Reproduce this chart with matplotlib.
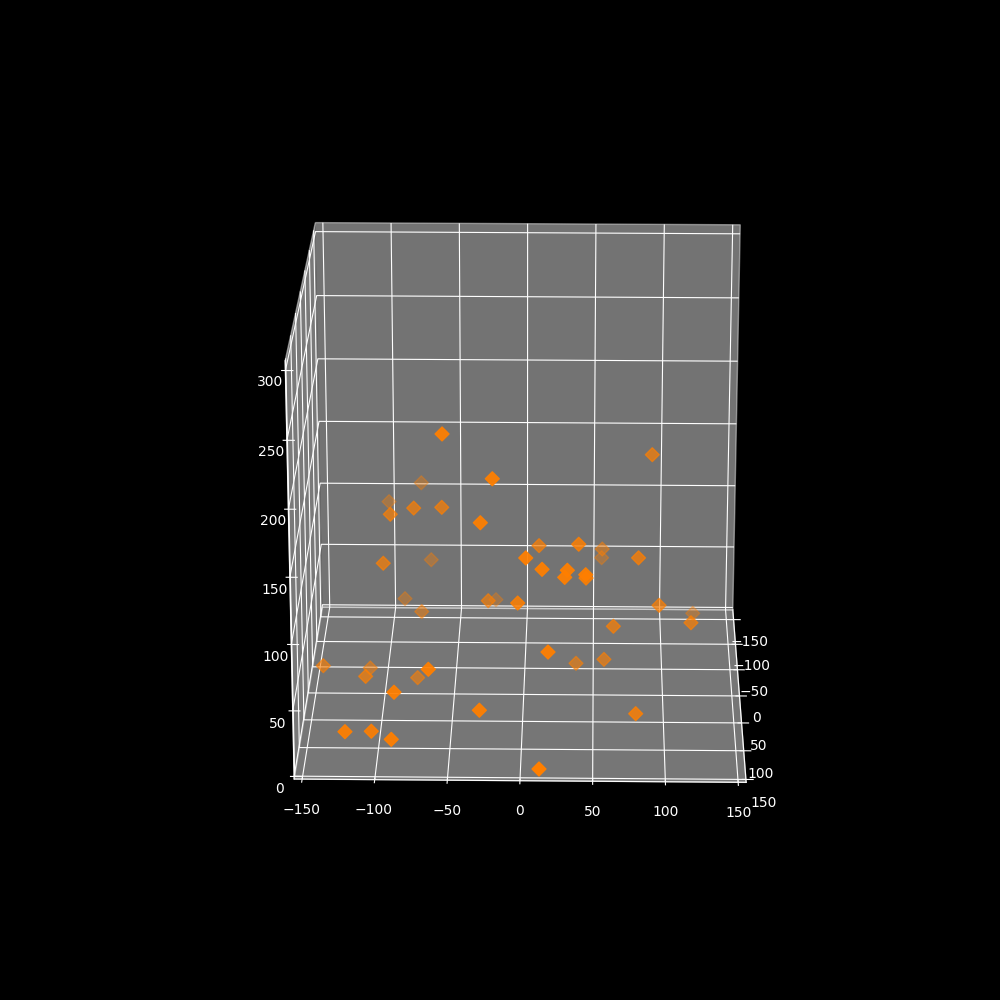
import matplotlib
matplotlib.use("Agg")
import matplotlib.pyplot as plt

plt.style.use("dark_background")

x = [-56.3,-21.1,-78.7,-102.6,-95.9,-79.2,-59.1,-29.3,91.3,-100.7,-70.9,10.7,39.2,56.1,55.8,81.7,2.5,13.9,31.5,29.7,44.3,44.5,-90.2,-76.0,-26.0,-23.0,-3.4,96.8,123.8,119.7,64.2,-144.6,-112.8,-112.8,-64.8,-77.3,-88.6,18.4,37.5,57.7,-122.6,-105.0,-90.3,-29.1,80.1,12.9]
y = [34,46,-148,-142,-24,-26,-26,56,-42,-10,-126,-16,24,-90,-128,4,66,68,68,70,68,42,-114,-70,-24,-134,50,-2,-114,2,4,-4,-42,20,96,-20,102,90,-24,-10,112,98,114,106,68,140]
z = [212.5,183.3,108.9,95.7,129.7,133.9,134.6,153.7,170.6,96.8,54.9,109.0,125.6,78.3,56.7,107.7,131.0,123.2,122.6,118.0,119.3,106.6,27.8,35.0,62.4,19.5,90.2,68.4,17.4,56.5,54.1,18.1,0.7,19.9,57.5,2.4,42.2,68.9,13.1,22.2,15.8,10.2,11.0,30.5,12.4,0.4]

xy_ticks = [-150, -100, -50, 0, 50, 100, 150]
z_ticks = [0, 50, 100, 150, 200, 250, 300]

fig = plt.figure(figsize=(10, 10), dpi=100)
ax = fig.add_axes([0.126, 0.111, 0.775, 0.77], projection="3d")
ax.scatter(x, y, z, c="#ff7f00", marker="D", s=50)
ax.set_xlim(-155.5, 155.5)
ax.set_ylim(155, -170)
ax.set_zlim(-2, 307)
ax.set_box_aspect((1, 1, 0.979), zoom=0.95)
ax.view_init(elev=20.8, azim=-89)
ax.zaxis.set_ticks_position("upper")
ax.tick_params(axis="z", pad=1)
ax.set_xticks(xy_ticks)
ax.set_yticks(xy_ticks)
ax.set_zticks(z_ticks)
fig.savefig("out.png")
